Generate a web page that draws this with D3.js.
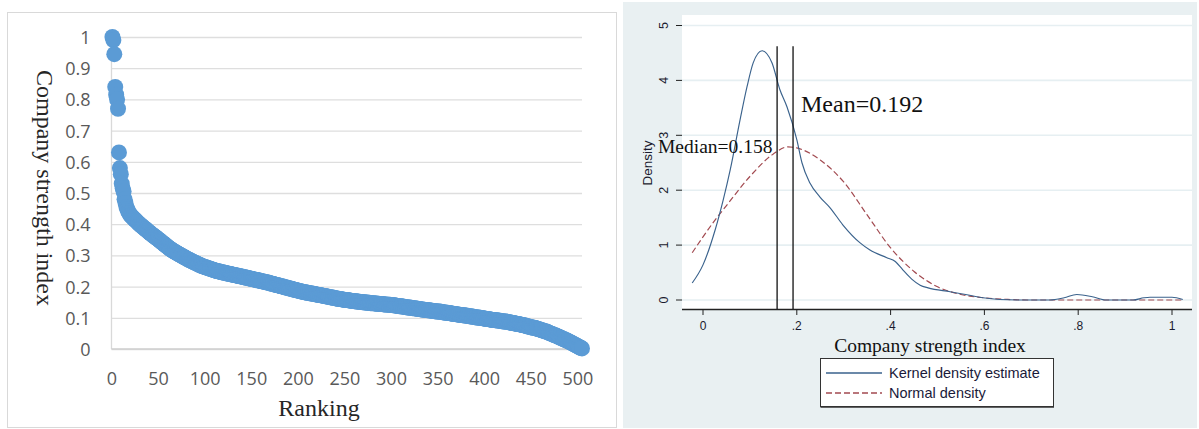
<!DOCTYPE html>
<html>
<head>
<meta charset="utf-8">
<script src="https://cdn.jsdelivr.net/npm/d3@7"></script>
<style>
  html, body { margin: 0; padding: 0; background: #ffffff; }
  svg { display: block; }
</style>
</head>
<body>
<svg id="chart" width="1199" height="429"></svg>
<script>
// Company strength index of each company, in ranking order (rank 1 first)
const strengthByRank = [
  1.000, 0.990, 0.945, 0.840, 0.815, 0.800, 0.770, 0.630, 0.580, 0.560,
  0.530, 0.515, 0.505, 0.480, 0.468, 0.455, 0.448, 0.441, 0.435, 0.430,
  0.427, 0.424, 0.421, 0.418, 0.415, 0.412, 0.409, 0.406, 0.403, 0.400,
  0.398, 0.395, 0.393, 0.390, 0.388, 0.385, 0.383, 0.380, 0.378, 0.375,
  0.373, 0.370, 0.368, 0.366, 0.363, 0.361, 0.359, 0.357, 0.354, 0.352,
  0.350, 0.347, 0.345, 0.342, 0.340, 0.338, 0.335, 0.333, 0.330, 0.328,
  0.326, 0.323, 0.321, 0.319, 0.317, 0.315, 0.313, 0.311, 0.310, 0.308,
  0.306, 0.304, 0.303, 0.301, 0.299, 0.298, 0.296, 0.294, 0.293, 0.291,
  0.289, 0.288, 0.286, 0.285, 0.283, 0.282, 0.280, 0.279, 0.277, 0.276,
  0.275, 0.273, 0.272, 0.270, 0.269, 0.268, 0.266, 0.265, 0.264, 0.263,
  0.262, 0.261, 0.260, 0.259, 0.258, 0.257, 0.256, 0.255, 0.254, 0.253,
  0.252, 0.251, 0.250, 0.249, 0.249, 0.248, 0.247, 0.246, 0.246, 0.245,
  0.244, 0.244, 0.243, 0.242, 0.242, 0.241, 0.240, 0.240, 0.239, 0.238,
  0.238, 0.237, 0.236, 0.236, 0.235, 0.234, 0.234, 0.233, 0.232, 0.232,
  0.231, 0.230, 0.230, 0.229, 0.228, 0.228, 0.227, 0.226, 0.226, 0.225,
  0.224, 0.224, 0.223, 0.222, 0.222, 0.221, 0.220, 0.220, 0.219, 0.218,
  0.217, 0.217, 0.216, 0.215, 0.215, 0.214, 0.213, 0.213, 0.212, 0.211,
  0.210, 0.209, 0.209, 0.208, 0.207, 0.206, 0.205, 0.205, 0.204, 0.203,
  0.202, 0.201, 0.201, 0.200, 0.199, 0.198, 0.197, 0.197, 0.196, 0.195,
  0.194, 0.194, 0.193, 0.192, 0.191, 0.190, 0.190, 0.189, 0.188, 0.187,
  0.186, 0.186, 0.185, 0.184, 0.183, 0.183, 0.182, 0.182, 0.181, 0.180,
  0.180, 0.179, 0.179, 0.178, 0.178, 0.177, 0.177, 0.176, 0.175, 0.175,
  0.174, 0.174, 0.173, 0.173, 0.172, 0.171, 0.171, 0.170, 0.170, 0.169,
  0.168, 0.168, 0.167, 0.167, 0.166, 0.165, 0.165, 0.164, 0.164, 0.163,
  0.162, 0.162, 0.161, 0.161, 0.160, 0.160, 0.159, 0.159, 0.158, 0.158,
  0.157, 0.157, 0.157, 0.156, 0.156, 0.155, 0.155, 0.154, 0.154, 0.154,
  0.153, 0.153, 0.152, 0.152, 0.152, 0.151, 0.151, 0.151, 0.150, 0.150,
  0.150, 0.149, 0.149, 0.149, 0.148, 0.148, 0.148, 0.147, 0.147, 0.147,
  0.147, 0.146, 0.146, 0.146, 0.145, 0.145, 0.145, 0.144, 0.144, 0.144,
  0.144, 0.143, 0.143, 0.143, 0.143, 0.142, 0.142, 0.142, 0.142, 0.141,
  0.141, 0.140, 0.140, 0.140, 0.139, 0.139, 0.138, 0.138, 0.137, 0.137,
  0.137, 0.136, 0.136, 0.135, 0.135, 0.134, 0.134, 0.133, 0.133, 0.133,
  0.132, 0.132, 0.131, 0.131, 0.131, 0.130, 0.130, 0.129, 0.129, 0.128,
  0.128, 0.127, 0.127, 0.127, 0.126, 0.126, 0.125, 0.125, 0.124, 0.124,
  0.124, 0.123, 0.123, 0.122, 0.122, 0.122, 0.121, 0.121, 0.120, 0.120,
  0.120, 0.120, 0.119, 0.119, 0.118, 0.118, 0.117, 0.117, 0.116, 0.116,
  0.116, 0.115, 0.115, 0.114, 0.114, 0.113, 0.113, 0.112, 0.112, 0.111,
  0.111, 0.110, 0.110, 0.110, 0.109, 0.109, 0.108, 0.108, 0.107, 0.107,
  0.107, 0.106, 0.106, 0.105, 0.105, 0.104, 0.104, 0.103, 0.103, 0.102,
  0.102, 0.101, 0.101, 0.101, 0.100, 0.100, 0.099, 0.099, 0.098, 0.098,
  0.097, 0.097, 0.096, 0.096, 0.095, 0.095, 0.094, 0.094, 0.093, 0.093,
  0.093, 0.092, 0.092, 0.091, 0.091, 0.091, 0.090, 0.090, 0.089, 0.089,
  0.088, 0.088, 0.088, 0.087, 0.087, 0.086, 0.086, 0.085, 0.084, 0.084,
  0.083, 0.083, 0.082, 0.081, 0.081, 0.080, 0.080, 0.079, 0.078, 0.078,
  0.077, 0.076, 0.076, 0.075, 0.074, 0.073, 0.072, 0.072, 0.071, 0.070,
  0.069, 0.069, 0.068, 0.068, 0.067, 0.066, 0.065, 0.064, 0.063, 0.062,
  0.061, 0.060, 0.059, 0.058, 0.057, 0.056, 0.056, 0.054, 0.053, 0.051,
  0.050, 0.049, 0.048, 0.046, 0.045, 0.044, 0.043, 0.042, 0.040, 0.039,
  0.038, 0.036, 0.035, 0.033, 0.032, 0.031, 0.029, 0.028, 0.027, 0.025,
  0.024, 0.022, 0.021, 0.019, 0.018, 0.016, 0.014, 0.013, 0.011, 0.010,
  0.008, 0.006, 0.005, 0.003, 0.002
];
const rankTicks = [0, 50, 100, 150, 200, 250, 300, 350, 400, 450, 500];
const strengthTicks = [0, 0.1, 0.2, 0.3, 0.4, 0.5, 0.6, 0.7, 0.8, 0.9, 1];

// Kernel density estimate of the strength index
const kdeIndex   = [-0.023, 0.0, 0.026, 0.043, 0.058, 0.079, 0.094, 0.107, 0.126, 0.147,
                    0.164, 0.179, 0.2, 0.211, 0.228, 0.249, 0.271, 0.298, 0.335, 0.356,
                    0.392, 0.41, 0.426, 0.445, 0.463, 0.48, 0.527, 0.56, 0.597, 0.633,
                    0.68, 0.74, 0.77, 0.797, 0.83, 0.86, 0.917, 0.94, 0.953, 1.0, 1.023];
const kdeDensity = [0.31, 0.64, 1.28, 1.82, 2.37, 3.28, 3.89, 4.32, 4.54, 4.32,
                    3.83, 3.52, 2.92, 2.5, 2.13, 1.88, 1.68, 1.37, 1.04, 0.91,
                    0.77, 0.7, 0.55, 0.38, 0.27, 0.22, 0.15, 0.1, 0.04, 0.01,
                    0.0, 0.0, 0.04, 0.1, 0.06, 0.0, 0.0, 0.04, 0.05, 0.05, 0.01];

// Normal density for comparison
const normalIndex   = [-0.023, 0.0, 0.026, 0.05, 0.1, 0.15, 0.181, 0.2, 0.25, 0.3,
                       0.35, 0.4, 0.45, 0.5, 0.55, 0.6, 0.65, 0.7, 0.8, 0.9, 1.023];
const normalDensity = [0.86, 1.15, 1.46, 1.72, 2.25, 2.66, 2.79, 2.77, 2.55, 2.15,
                       1.55, 0.95, 0.52, 0.24, 0.1, 0.04, 0.01, 0.0, 0.0, 0.0, 0.0];

const indexTicks = [0, 0.2, 0.4, 0.6, 0.8, 1];
const indexTickLabels = ["0", ".2", ".4", ".6", ".8", "1"];
const densityTicks = [0, 1, 2, 3, 4, 5];
const medianValue = 0.158;
const meanValue = 0.192;
const legendLabels = ["Kernel density estimate", "Normal density"];

const svg = d3.select("#chart");

// ---------- Left panel: strength index by ranking ----------
const left = svg.append("g");
left.append("rect")
  .attr("x", 7.5).attr("y", 12.5).attr("width", 609).attr("height", 415)
  .attr("fill", "#ffffff").attr("stroke", "#d9d9d9").attr("stroke-width", 1);

const xRank = d3.scaleLinear().domain([0, 505]).range([111.5, 582]);
const yStr = d3.scaleLinear().domain([0, 1]).range([349, 37]);

const yAxisL = left.append("g")
  .attr("transform", `translate(${xRank(0)},0)`)
  .call(d3.axisLeft(yStr).tickValues(strengthTicks)
    .tickSize(-(xRank(505) - xRank(0))).tickPadding(21)
    .tickFormat(d => d3.format("~g")(d)));
yAxisL.select(".domain").remove();
yAxisL.selectAll(".tick line").attr("stroke", "#dedede").attr("stroke-width", 1.3);
yAxisL.selectAll(".tick text")
  .attr("fill", "#595959").attr("font-family", "'Open Sans', sans-serif")
  .attr("font-size", 18).attr("dy", "0.36em");

// value axis line and category baseline
left.append("line")
  .attr("x1", xRank(0)).attr("x2", xRank(0)).attr("y1", yStr(1)).attr("y2", yStr(0))
  .attr("stroke", "#d9d9d9").attr("stroke-width", 1.3);
left.append("line")
  .attr("x1", xRank(0)).attr("x2", xRank(505)).attr("y1", yStr(0)).attr("y2", yStr(0))
  .attr("stroke", "#cfcfcf").attr("stroke-width", 1.3);

const xAxisL = left.append("g")
  .attr("transform", `translate(0,${yStr(0)})`)
  .call(d3.axisBottom(xRank).tickValues(rankTicks).tickSize(0).tickPadding(23));
xAxisL.select(".domain").remove();
xAxisL.selectAll(".tick text")
  .attr("fill", "#595959").attr("font-family", "'Open Sans', sans-serif")
  .attr("font-size", 18);

left.append("g").selectAll("circle")
  .data(strengthByRank)
  .join("circle")
  .attr("cx", (d, i) => xRank(i + 1))
  .attr("cy", d => yStr(d))
  .attr("r", 8)
  .attr("fill", "#5b9bd5");

left.append("text")
  .attr("transform", "translate(36.5,188) rotate(90)")
  .attr("text-anchor", "middle")
  .attr("font-family", "'Liberation Serif', serif").attr("font-size", 24)
  .attr("fill", "#262626")
  .text("Company strength index");

left.append("text")
  .attr("x", 319).attr("y", 416)
  .attr("text-anchor", "middle")
  .attr("font-family", "'Liberation Serif', serif").attr("font-size", 24)
  .attr("fill", "#262626")
  .text("Ranking");

// ---------- Right panel: density of the strength index ----------
const right = svg.append("g");
right.append("rect")
  .attr("x", 623).attr("y", 2).attr("width", 574).attr("height", 426)
  .attr("fill", "#e9f0f2");
right.append("rect")
  .attr("x", 682).attr("y", 15).attr("width", 510).attr("height", 294)
  .attr("fill", "#ffffff");

const xIdx = d3.scaleLinear().domain([0, 1]).range([703, 1172]);
const yDen = d3.scaleLinear().domain([0, 5]).range([300, 25.5]);

right.append("g").selectAll("line")
  .data(densityTicks)
  .join("line")
  .attr("x1", 682).attr("x2", 1192)
  .attr("y1", d => yDen(d)).attr("y2", d => yDen(d))
  .attr("stroke", "#e6eff2").attr("stroke-width", 1.6);

// y ticks and rotated labels
right.append("g").selectAll("line")
  .data(densityTicks)
  .join("line")
  .attr("x1", 676).attr("x2", 682)
  .attr("y1", d => yDen(d)).attr("y2", d => yDen(d))
  .attr("stroke", "#222").attr("stroke-width", 1);
right.append("g").selectAll("text")
  .data(densityTicks)
  .join("text")
  .attr("transform", d => `translate(668,${yDen(d)}) rotate(-90)`)
  .attr("text-anchor", "middle")
  .attr("font-family", "'Liberation Sans', Arial, sans-serif").attr("font-size", 12.5)
  .attr("fill", "#1a1a2e")
  .text(d => d);

right.append("text")
  .attr("transform", "translate(652,163) rotate(-90)")
  .attr("text-anchor", "middle")
  .attr("font-family", "'Liberation Sans', Arial, sans-serif").attr("font-size", 13.5)
  .attr("fill", "#1a1a2e")
  .text("Density");

// x axis
right.append("line")
  .attr("x1", 682).attr("x2", 1192).attr("y1", 309.5).attr("y2", 309.5)
  .attr("stroke", "#222").attr("stroke-width", 1.4);
right.append("g").selectAll("line")
  .data(indexTicks)
  .join("line")
  .attr("x1", d => xIdx(d)).attr("x2", d => xIdx(d))
  .attr("y1", 309.5).attr("y2", 315)
  .attr("stroke", "#222").attr("stroke-width", 1);
right.append("g").selectAll("text")
  .data(indexTicks)
  .join("text")
  .attr("x", d => xIdx(d)).attr("y", 330)
  .attr("text-anchor", "middle")
  .attr("font-family", "'Liberation Sans', Arial, sans-serif").attr("font-size", 12)
  .attr("fill", "#1a1a2e")
  .text((d, i) => indexTickLabels[i]);

right.append("text")
  .attr("x", 930).attr("y", 352)
  .attr("text-anchor", "middle")
  .attr("font-family", "'Liberation Serif', serif").attr("font-size", 19.5)
  .attr("fill", "#111")
  .text("Company strength index");

// density curves
const normalLine = d3.line()
  .x((d, i) => xIdx(normalIndex[i])).y(d => yDen(d))
  .curve(d3.curveMonotoneX);
right.append("path")
  .attr("d", normalLine(normalDensity))
  .attr("fill", "none").attr("stroke", "#a24a50").attr("stroke-width", 1.2)
  .attr("stroke-dasharray", "6,3");

const kdeLine = d3.line()
  .x((d, i) => xIdx(kdeIndex[i])).y(d => yDen(d))
  .curve(d3.curveMonotoneX);
right.append("path")
  .attr("d", kdeLine(kdeDensity))
  .attr("fill", "none").attr("stroke", "#3a628c").attr("stroke-width", 1.15);

// median and mean reference lines
[medianValue, meanValue].forEach(v => {
  right.append("line")
    .attr("x1", xIdx(v)).attr("x2", xIdx(v))
    .attr("y1", 309).attr("y2", yDen(4.62))
    .attr("stroke", "#111").attr("stroke-width", 1.3);
});

right.append("text")
  .attr("x", xIdx(-0.096)).attr("y", yDen(2.68))
  .attr("font-family", "'Liberation Serif', serif").attr("font-size", 19.5)
  .attr("fill", "#111")
  .text("Median=" + medianValue);
right.append("text")
  .attr("x", xIdx(0.209)).attr("y", yDen(3.43))
  .attr("font-family", "'Liberation Serif', serif").attr("font-size", 24)
  .attr("fill", "#111")
  .text("Mean=" + meanValue);

// legend
const legend = right.append("g");
legend.append("rect")
  .attr("x", 820.5).attr("y", 358.5).attr("width", 233).attr("height", 48)
  .attr("fill", "#ffffff").attr("stroke", "#333").attr("stroke-width", 1);
legend.append("line")
  .attr("x1", 820.5).attr("x2", 1054).attr("y1", 407).attr("y2", 407)
  .attr("stroke", "#333").attr("stroke-width", 1.5);
const legendStyles = [
  { stroke: "#3a628c", dash: null },
  { stroke: "#a24a50", dash: "6,3" }
];
legendLabels.forEach((label, i) => {
  const yy = 373 + i * 20;
  legend.append("line")
    .attr("x1", 826).attr("x2", 882).attr("y1", yy).attr("y2", yy)
    .attr("stroke", legendStyles[i].stroke).attr("stroke-width", 1.3)
    .attr("stroke-dasharray", legendStyles[i].dash);
  legend.append("text")
    .attr("x", 889).attr("y", yy + 5)
    .attr("font-family", "'Liberation Sans', Arial, sans-serif").attr("font-size", 14.5)
    .attr("fill", "#1a1a3a")
    .text(label);
});
</script>
</body>
</html>
